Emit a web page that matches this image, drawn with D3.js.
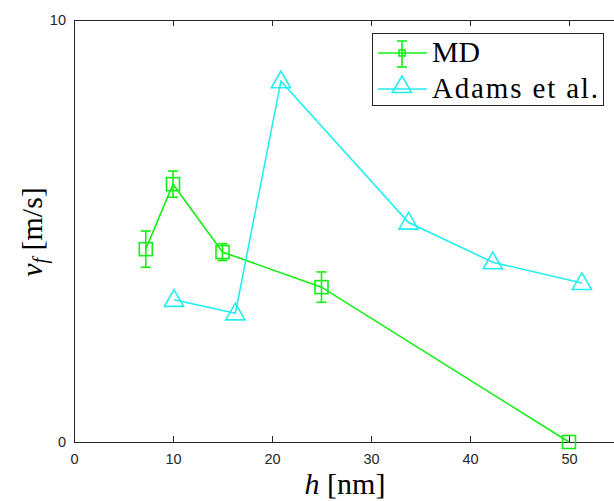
<!DOCTYPE html>
<html>
<script src="https://d3js.org/d3.v7.min.js"></script>
<style>
  body { margin: 0; background: white; }
  .tick text { font-family: "Liberation Sans", Arial, sans-serif; font-size: 14.5px; fill: #262626; }
  .serif { font-family: "Liberation Serif", "DejaVu Serif", serif; fill: black; }
</style>
<body>
<svg width="614" height="501"></svg>
<script>
// MD series with error bars
const mdH = [7.25, 10, 15, 25, 50];
const mdV = [4.57, 6.11, 4.5, 3.67, 0];
const mdErr = [0.43, 0.31, 0.2, 0.36, 0];
// Adams et al. series
const adH = [10.1, 16.3, 20.9, 33.8, 42.3, 51.3];
const adV = [3.37, 3.05, 8.55, 5.2, 4.26, 3.77];
const xTicks = [0, 10, 20, 30, 40, 50];
const yTicks = [0, 10];

const svg = d3.select('svg');
const x = d3.scaleLinear().domain([0, 55]).range([74, 618.5]);
const y = d3.scaleLinear().domain([0, 10]).range([442, 20]);

const green = '#12f012';
const cyan = '#22eef0';

// axes, ticks inside like matlab
svg.append('g').attr('transform', 'translate(0,442)')
  .call(d3.axisBottom(x).tickValues(xTicks).tickSizeInner(-6).tickSizeOuter(0).tickPadding(12));
svg.append('g').attr('transform', 'translate(0,20)')
  .call(d3.axisTop(x).tickValues(xTicks).tickSizeInner(-6).tickSizeOuter(0).tickFormat(''));
svg.append('g').attr('transform', 'translate(74,0)')
  .call(d3.axisLeft(y).tickValues(yTicks).tickSizeInner(-6).tickSizeOuter(0).tickPadding(8));
svg.selectAll('.domain, .tick line').attr('stroke', '#262626').attr('stroke-width', 1);

// MD line
svg.append('path').datum(mdH.map((h, i) => [h, mdV[i]]))
  .attr('fill', 'none').attr('stroke', green).attr('stroke-width', 1.6)
  .attr('d', d3.line().x(d => x(d[0])).y(d => y(d[1])));

// error bars
mdH.forEach(function (h, i) {
  if (mdErr[i] === 0) return;
  const cx = x(h), y1 = y(mdV[i] - mdErr[i]), y2 = y(mdV[i] + mdErr[i]);
  const g = svg.append('g').attr('stroke', green).attr('stroke-width', 1.6);
  g.append('line').attr('x1', cx).attr('x2', cx).attr('y1', y1).attr('y2', y2);
  g.append('line').attr('x1', cx - 5).attr('x2', cx + 5).attr('y1', y1).attr('y2', y1);
  g.append('line').attr('x1', cx - 5).attr('x2', cx + 5).attr('y1', y2).attr('y2', y2);
});

// square markers
svg.selectAll('rect.md').data(mdH).enter().append('rect')
  .attr('x', (d, i) => x(d) - 6.5).attr('y', (d, i) => y(mdV[i]) - 6.5)
  .attr('width', 13).attr('height', 13)
  .attr('fill', 'none').attr('stroke', green).attr('stroke-width', 1.6);

// Adams line
svg.append('path').datum(adH.map((h, i) => [h, adV[i]]))
  .attr('fill', 'none').attr('stroke', cyan).attr('stroke-width', 1.6)
  .attr('d', d3.line().x(d => x(d[0])).y(d => y(d[1])));

const tri = d3.symbol().type(d3.symbolTriangle).size(160);
svg.selectAll('path.ad').data(adH).enter().append('path')
  .attr('transform', (d, i) => 'translate(' + x(d) + ',' + (y(adV[i]) + 1) + ')')
  .attr('d', tri)
  .attr('fill', 'none').attr('stroke', cyan).attr('stroke-width', 1.6);

// legend
const lg = svg.append('g');
lg.append('rect').attr('x', 372.5).attr('y', 33.5).attr('width', 231).attr('height', 72)
  .attr('fill', 'white').attr('stroke', '#262626').attr('stroke-width', 1);
lg.append('line').attr('x1', 378).attr('x2', 427).attr('y1', 53).attr('y2', 53)
  .attr('stroke', green).attr('stroke-width', 1.6);
lg.append('line').attr('x1', 402).attr('x2', 402).attr('y1', 41).attr('y2', 67)
  .attr('stroke', green).attr('stroke-width', 1.6);
lg.append('line').attr('x1', 397).attr('x2', 407).attr('y1', 41).attr('y2', 41)
  .attr('stroke', green).attr('stroke-width', 1.6);
lg.append('line').attr('x1', 397).attr('x2', 407).attr('y1', 67).attr('y2', 67)
  .attr('stroke', green).attr('stroke-width', 1.6);
lg.append('rect').attr('x', 399).attr('y', 50).attr('width', 6).attr('height', 6)
  .attr('fill', 'none').attr('stroke', green).attr('stroke-width', 1.6);
lg.append('line').attr('x1', 378).attr('x2', 427).attr('y1', 89).attr('y2', 89)
  .attr('stroke', cyan).attr('stroke-width', 1.6);
lg.append('path').attr('transform', 'translate(402,87)').attr('d', tri)
  .attr('fill', 'none').attr('stroke', cyan).attr('stroke-width', 1.6);
lg.append('text').attr('class', 'serif').attr('x', 432).attr('y', 62)
  .style('font-size', '29px').attr('textLength', 48).attr('lengthAdjust', 'spacingAndGlyphs').text('MD');
lg.append('text').attr('class', 'serif').attr('x', 432).attr('y', 98)
  .style('font-size', '29px').attr('textLength', 166).attr('lengthAdjust', 'spacing').text('Adams et al.');

// axis labels
const xl = svg.append('text').attr('class', 'serif').attr('x', 345).attr('y', 494)
  .attr('text-anchor', 'middle').style('font-size', '30px');
xl.append('tspan').style('font-style', 'italic').text('h');
xl.append('tspan').text(' [nm]');

const yl = svg.append('text').attr('class', 'serif')
  .attr('transform', 'translate(42,232) rotate(-90)')
  .attr('text-anchor', 'middle').style('font-size', '30px');
yl.append('tspan').style('font-style', 'italic').text('v');
yl.append('tspan').style('font-style', 'italic').style('font-size', '20px').attr('dy', 5).text('f');
yl.append('tspan').attr('dy', -5).text(' [m/s]');
</script>
</body>
</html>
